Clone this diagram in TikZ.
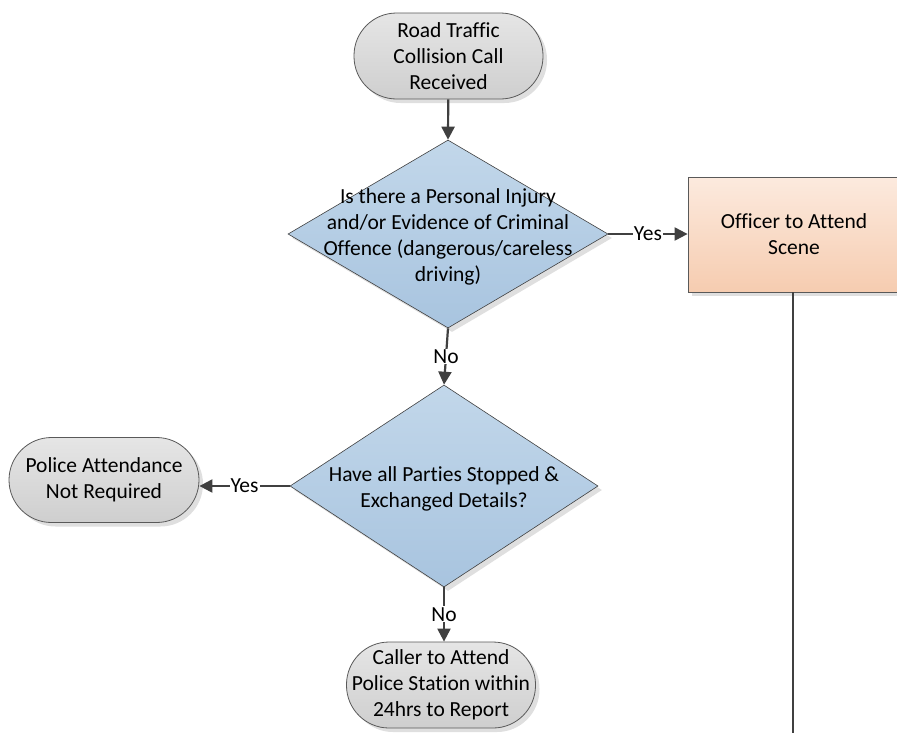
\documentclass[tikz,border=0pt]{standalone}
\usepackage{fontspec}
\setmainfont{Carlito}[Ligatures=NoCommon]
\usetikzlibrary{shapes.geometric,arrows.meta,shadows}
\definecolor{lineC}{HTML}{404040}
\definecolor{edgeC}{HTML}{595959}
\begin{document}
\begin{tikzpicture}[x=1pt,y=-1pt,
  every node/.style={font=\fontsize{21.5}{26}\selectfont, align=center},
  shad/.style={drop shadow={opacity=0.25,fill=gray,shadow xshift=4pt,shadow yshift=-4pt}},
  term/.style={shad, draw=edgeC, line width=0.8pt, rectangle, rounded corners=42.5pt,
    minimum width=189pt, minimum height=86pt, inner sep=0pt,
    top color=gray!20, bottom color=gray!38},
  dec/.style={shad, draw=lineC, line width=0.6pt, diamond, inner sep=0pt,
    top color={rgb,255:red,194;green,215;blue,234}, bottom color={rgb,255:red,168;green,196;blue,223}},
  dectext/.style={yshift=-2.5pt},
  proc/.style={shad, draw=edgeC, line width=0.8pt, rectangle, inner sep=0pt,
    top color={rgb,255:red,252;green,234;blue,222}, bottom color={rgb,255:red,246;green,204;blue,176}},
  conn/.style={draw=lineC, line width=2.2pt},
  arr/.style={conn, -{Triangle[length=13pt,width=13pt]}},
  lab/.style={fill=white, inner sep=1pt}
]
\useasboundingbox (0,0) rectangle (897,732);

\node[term] (start) at (448.5,56) {Road Traffic\\Collision Call\\Received};
\node[dec, minimum width=320pt, minimum height=188pt] (d1) at (448,234) {};
\node[dectext] (d1t) at (d1) {Is there a Personal Injury\\and/or Evidence of Criminal\\Offence (dangerous/careless\\driving)};
\node[proc, minimum width=212pt, minimum height=115pt] (off) at (794,234.5) {Officer to Attend\\Scene};
\node[dec, minimum width=308pt, minimum height=202pt] (d2) at (444,486) {};
\node[dectext] (d2t) at (d2) {Have all Parties Stopped \&\\Exchanged Details?};
\node[term, minimum width=190pt, minimum height=85pt] (pa) at (104,480) {Police Attendance\\Not Required};
\node[term] (caller) at (441,685) {Caller to Attend\\Police Station within\\24hrs to Report};
\coordinate (endline) at (793,740);

\draw[arr] (start) -- (d1.north);
\draw[arr] (d1.east) -- node[lab] {Yes} (off.west |- d1.east);
\draw[arr] (d1.south) -- node[lab] {No} (d2.north);
\draw[arr] (d2.west) -- node[lab] {Yes} (pa.east |- d2.west);
\draw[arr] (d2.south) -- node[lab] {No} (d2.south |- caller.north);
\draw[conn] (off.south -| endline) -- (endline);
\end{tikzpicture}
\end{document}
